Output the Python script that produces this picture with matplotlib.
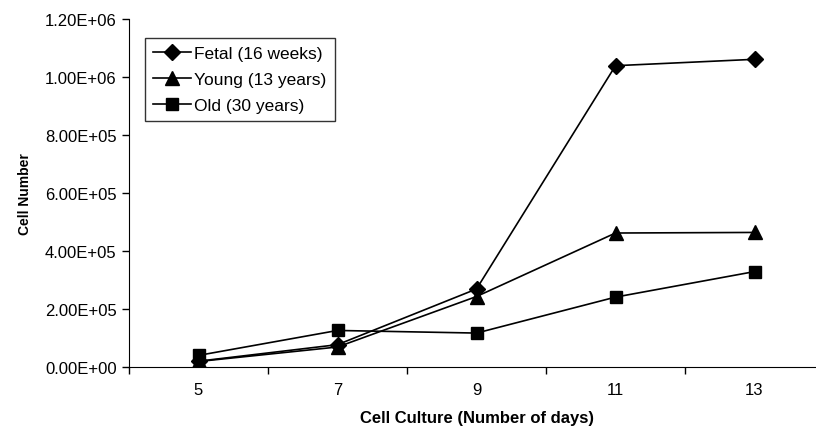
import matplotlib
matplotlib.use("Agg")
import matplotlib.pyplot as plt
from matplotlib.ticker import FuncFormatter

plt.rcParams['font.family'] = ['Liberation Sans', 'DejaVu Sans']

# values
days = ['5', '7', '9', '11', '13']
fetal = [2.0e4, 7.7e4, 2.69e5, 1.039e6, 1.061e6]
young = [1.9e4, 6.9e4, 2.43e5, 4.62e5, 4.64e5]
old = [4.0e4, 1.26e5, 1.17e5, 2.41e5, 3.29e5]
yticks = [0, 2e5, 4e5, 6e5, 8e5, 1e6, 1.2e6]

W, H = 816, 431
fig = plt.figure(figsize=(W / 100, H / 100), dpi=100)
# axis runs a bit past the right edge like the original
ax = fig.add_axes([129 / W, 63 / H, 695 / W, 348 / H])

x = range(len(days))
ax.plot(x, fetal, color='black', lw=1.2, marker='D', ms=8, label='Fetal (16 weeks)')
ax.plot(x, young, color='black', lw=1.2, marker='^', ms=10, label='Young (13 years)')
ax.plot(x, old, color='black', lw=1.2, marker='s', ms=9, label='Old (30 years)')

ax.set_xlim(-0.5, len(days) - 0.5)
ax.set_ylim(0, 1.2e6)
ax.set_yticks(yticks)
ax.yaxis.set_major_formatter(FuncFormatter(lambda v, p: f"{v:.2E}"))

ax.set_xticks([i + 0.5 for i in range(-1, len(days))])
ax.set_xticklabels([])
ax.set_xticks(list(x), minor=True)
ax.set_xticklabels(days, minor=True)
ax.tick_params(axis='x', which='minor', length=0, pad=11, labelsize=12)
ax.tick_params(axis='x', which='major', length=5, width=1)
ax.tick_params(axis='y', length=5, width=1, labelsize=12, pad=4)

for s in ['top', 'right']:
    ax.spines[s].set_visible(False)

ax.set_xlabel('Cell Culture (Number of days)', fontweight='bold', fontsize=12, labelpad=9)
ax.set_ylabel('Cell Number', fontweight='bold', fontsize=10, labelpad=9)

leg = ax.legend(loc='upper left', bbox_to_anchor=(16 / 695, 1 - 19 / 348), fontsize=12.5,
                frameon=True, fancybox=False, edgecolor='black', handlelength=2.2,
                handletextpad=0.2, borderpad=0.45, labelspacing=0.62, borderaxespad=0)
leg.get_frame().set_linewidth(1)

fig.savefig('out.png', dpi=100)
